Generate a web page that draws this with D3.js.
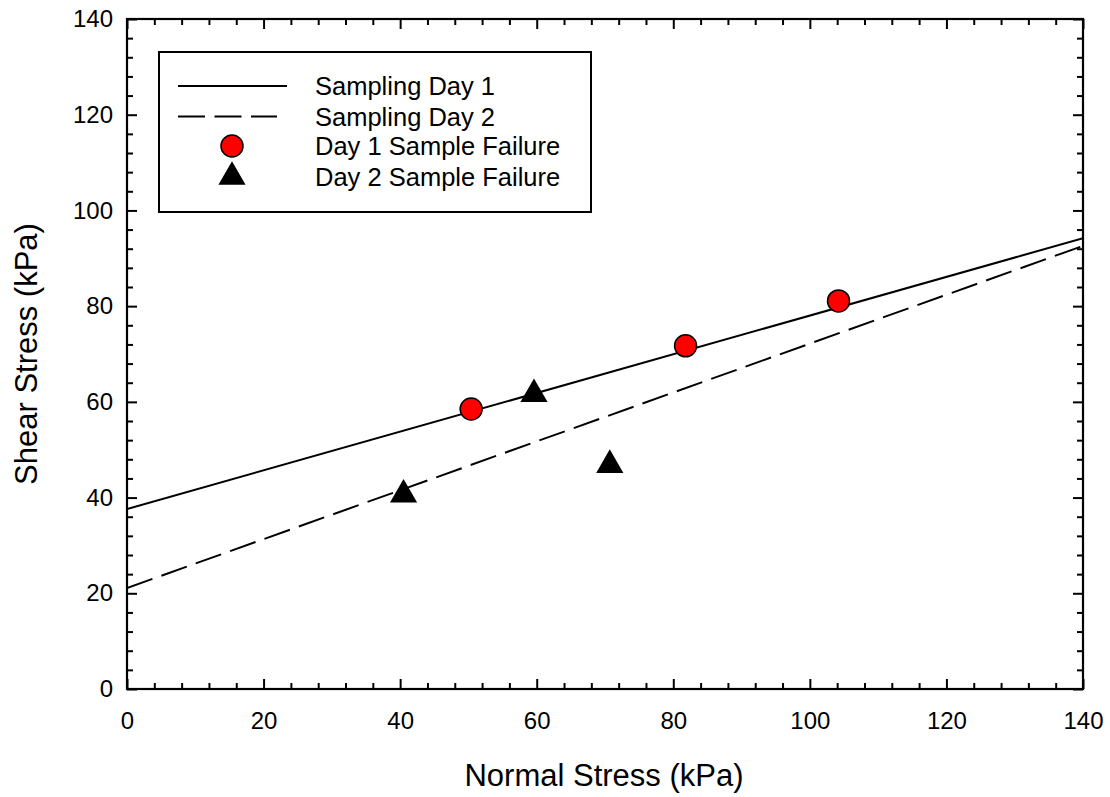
<!DOCTYPE html>
<html>
<head>
<meta charset="utf-8">
<script src="https://cdn.jsdelivr.net/npm/d3@7"></script>
<style>
  body { margin: 0; background: #fff; }
  svg { display: block; font-family: Arial, "Liberation Sans", sans-serif; }
</style>
</head>
<body>
<svg id="chart" width="1110" height="797"></svg>
<script>
// Failure envelopes (endpoints over the plotted range), kPa
const day1Line = [[0, 37.6], [140, 94.2]];
const day2Line = [[0, 21.1], [140, 92.6]];

// Measured failure points: normal stress, shear stress (kPa)
const day1Normal = [50.4, 81.8, 104.2];
const day1Shear  = [58.5, 71.7, 81.1];
const day2Normal = [40.5, 59.6, 70.7];
const day2Shear  = [40.6, 61.6, 46.8];

const xTicks = [0, 20, 40, 60, 80, 100, 120, 140];
const yTicks = [0, 20, 40, 60, 80, 100, 120, 140];
const minorStep = 4;

const legendLabels = ["Sampling Day 1", "Sampling Day 2", "Day 1 Sample Failure", "Day 2 Sample Failure"];

const FONT = 'Arial, "Liberation Sans", sans-serif';
const svg = d3.select("#chart");
const plotLeft = 127, plotRight = 1083, plotTop = 19, plotBottom = 689;

const x = d3.scaleLinear().domain([0, 140]).range([plotLeft, plotRight]);
const y = d3.scaleLinear().domain([0, 140]).range([plotBottom, plotTop]);

const minorVals = d3.range(0, 140 + 0.001, minorStep).filter(v => v % 20 !== 0);

// Axes with inward ticks on all four sides
function styleAxis(g) {
  g.attr("font-family", FONT).attr("font-size", 24);
  g.select(".domain").remove();
  g.selectAll(".tick line").attr("stroke", "#000").attr("stroke-width", 2);
  g.selectAll("text").attr("fill", "#000");
}

// bottom
svg.append("g").attr("transform", `translate(0,${plotBottom})`)
  .call(d3.axisBottom(x).tickValues(xTicks).tickSize(-10).tickPadding(23).tickFormat(d3.format("d")))
  .call(styleAxis);
svg.append("g").attr("transform", `translate(0,${plotBottom})`)
  .call(d3.axisBottom(x).tickValues(minorVals).tickSize(-6).tickFormat(""))
  .call(styleAxis);
// top
svg.append("g").attr("transform", `translate(0,${plotTop})`)
  .call(d3.axisTop(x).tickValues(xTicks).tickSize(-10).tickFormat(""))
  .call(styleAxis);
svg.append("g").attr("transform", `translate(0,${plotTop})`)
  .call(d3.axisTop(x).tickValues(minorVals).tickSize(-6).tickFormat(""))
  .call(styleAxis);
// left
svg.append("g").attr("transform", `translate(${plotLeft},0)`)
  .call(d3.axisLeft(y).tickValues(yTicks).tickSize(-10).tickPadding(14).tickFormat(d3.format("d")))
  .call(styleAxis);
svg.append("g").attr("transform", `translate(${plotLeft},0)`)
  .call(d3.axisLeft(y).tickValues(minorVals).tickSize(-6).tickFormat(""))
  .call(styleAxis);
// right
svg.append("g").attr("transform", `translate(${plotRight},0)`)
  .call(d3.axisRight(y).tickValues(yTicks).tickSize(-10).tickFormat(""))
  .call(styleAxis);
svg.append("g").attr("transform", `translate(${plotRight},0)`)
  .call(d3.axisRight(y).tickValues(minorVals).tickSize(-6).tickFormat(""))
  .call(styleAxis);

// Frame
svg.append("rect")
  .attr("x", plotLeft).attr("y", plotTop)
  .attr("width", plotRight - plotLeft).attr("height", plotBottom - plotTop)
  .attr("fill", "none").attr("stroke", "#000").attr("stroke-width", 2.2);

// Axis titles
svg.append("text")
  .attr("x", 604).attr("y", 786)
  .attr("text-anchor", "middle").attr("font-size", 31)
  .text("Normal Stress (kPa)");
svg.append("text")
  .attr("transform", `translate(37,${(plotTop + plotBottom) / 2}) rotate(-90)`)
  .attr("text-anchor", "middle").attr("font-size", 31)
  .text("Shear Stress (kPa)");

// Envelope lines, clipped to the plot frame
svg.append("clipPath").attr("id", "plotClip")
  .append("rect").attr("x", plotLeft).attr("y", plotTop)
  .attr("width", plotRight - plotLeft).attr("height", plotBottom - plotTop);

const line = d3.line().x(d => x(d[0])).y(d => y(d[1]));

svg.append("path").datum(day1Line)
  .attr("d", line).attr("fill", "none").attr("stroke", "#000").attr("stroke-width", 2)
  .attr("clip-path", "url(#plotClip)");
svg.append("path").datum(day2Line)
  .attr("d", line).attr("fill", "none").attr("stroke", "#000").attr("stroke-width", 2)
  .attr("stroke-dasharray", "27,9.5")
  .attr("clip-path", "url(#plotClip)");

// Markers
const tri = d3.symbol().type(d3.symbolTriangle).size(320);

svg.append("g").selectAll("circle")
  .data(day1Normal.map((v, i) => [v, day1Shear[i]]))
  .join("circle")
  .attr("cx", d => x(d[0])).attr("cy", d => y(d[1])).attr("r", 11)
  .attr("fill", "#ff0000").attr("stroke", "#000").attr("stroke-width", 1.5);

svg.append("g").selectAll("path")
  .data(day2Normal.map((v, i) => [v, day2Shear[i]]))
  .join("path")
  .attr("d", tri)
  .attr("transform", d => `translate(${x(d[0])},${y(d[1])})`)
  .attr("fill", "#000");

// Legend
const lg = svg.append("g");
lg.append("rect").attr("x", 159).attr("y", 52).attr("width", 432).attr("height", 160)
  .attr("fill", "#fff").attr("stroke", "#000").attr("stroke-width", 2);

const rowY = [86, 116.5, 146, 177];
const textX = 315;
lg.append("line").attr("x1", 178).attr("x2", 287).attr("y1", rowY[0]).attr("y2", rowY[0])
  .attr("stroke", "#000").attr("stroke-width", 2);
lg.append("line").attr("x1", 178).attr("x2", 277).attr("y1", rowY[1]).attr("y2", rowY[1])
  .attr("stroke", "#000").attr("stroke-width", 2).attr("stroke-dasharray", "27,9.5");
lg.append("circle").attr("cx", 232).attr("cy", rowY[2]).attr("r", 11)
  .attr("fill", "#ff0000").attr("stroke", "#000").attr("stroke-width", 1.5);
lg.append("path").attr("d", tri).attr("transform", `translate(232,${rowY[3]})`).attr("fill", "#000");

lg.selectAll("text.lbl").data(legendLabels).join("text")
  .attr("class", "lbl")
  .attr("x", textX).attr("y", (d, i) => rowY[i] + 9.3)
  .attr("font-size", 25.5)
  .text(d => d);
</script>
</body>
</html>
